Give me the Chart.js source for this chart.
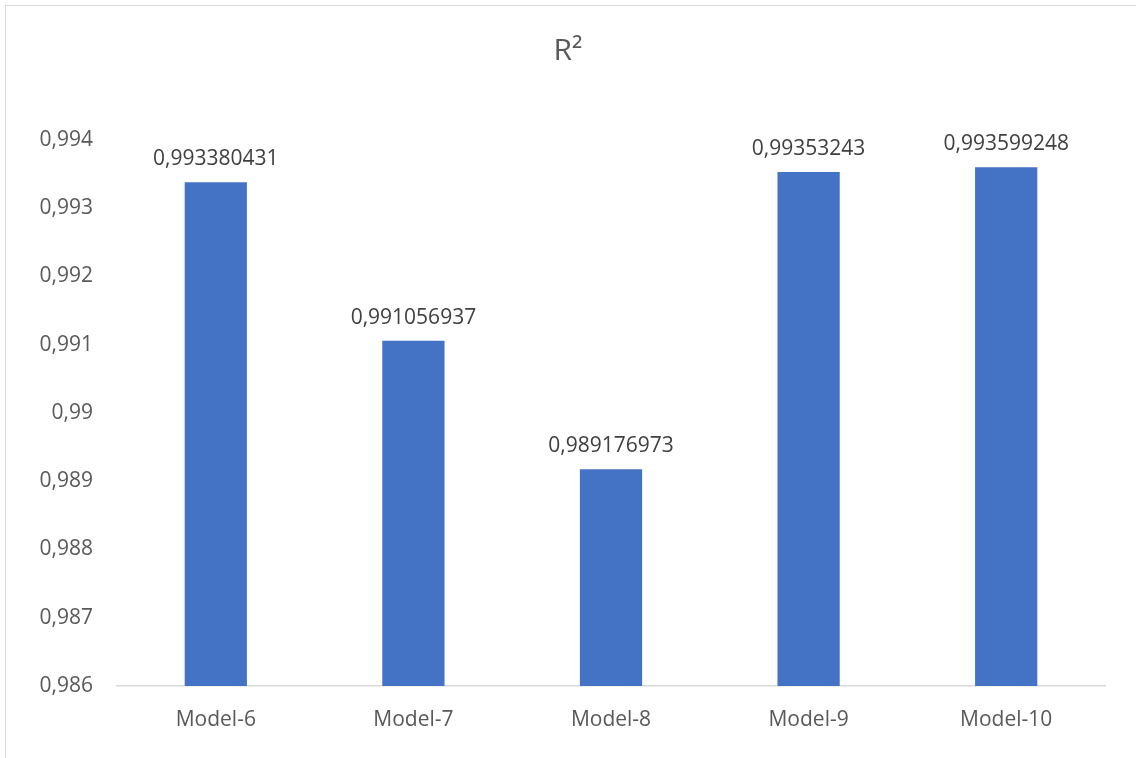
<!DOCTYPE html>
<html>
<head>
<meta charset="utf-8">
<title>R²</title>
<script src="https://cdn.jsdelivr.net/npm/chart.js@4.4.1/dist/chart.umd.min.js"></script>
<style>
  html, body { margin: 0; padding: 0; background: #fff; overflow: hidden; }
  #frame { position: absolute; left: 5px; top: 5px; width: 1200px; height: 800px; border: 1px solid #d9d9d9; }
  #bar-chart { position: absolute; left: 0; top: 0; }
</style>
</head>
<body>
<div id="frame"></div>
<canvas id="bar-chart" width="1136" height="758"></canvas>
<script>
// 모델별 결정계수
const models = ["Model-6", "Model-7", "Model-8", "Model-9", "Model-10"];
const r2 = [0.993380431, 0.991056937, 0.989176973, 0.99353243, 0.993599248];
const yTicks = [0.986, 0.987, 0.988, 0.989, 0.99, 0.991, 0.992, 0.993, 0.994];

const grey = "#595959";
const fontFamily = "'Open Sans', 'Liberation Sans', sans-serif";

// 소수점을 쉼표로
function comma(v) {
    return String(v).replace(".", ",");
}

// 막대 위 값 표시
const valueLabels = {
    id: "valueLabels",
    afterDatasetsDraw(chart) {
        const ctx = chart.ctx;
        const meta = chart.getDatasetMeta(0);
        ctx.save();
        ctx.font = "21px " + fontFamily;
        ctx.fillStyle = "#404040";
        ctx.textAlign = "center";
        ctx.textBaseline = "alphabetic";
        meta.data.forEach(function (bar, i) {
            ctx.fillText(comma(r2[i]), bar.x, bar.y - 17);
        });
        ctx.restore();
    }
};

new Chart(document.getElementById("bar-chart"), {
    type: 'bar',
    data: {
        labels: models,
        datasets: [{
            data: r2,
            backgroundColor: "#4472C4",
            categoryPercentage: 1,
            barPercentage: 0.315
        }]
    },
    options: {
        responsive: false,
        animation: false,
        layout: {
            padding: { left: 31, right: 31, top: 0, bottom: 0 }
        },
        plugins: {
            legend: { display: false },
            tooltip: { enabled: false },
            title: {
                display: true,
                text: 'R²',
                color: grey,
                font: { family: fontFamily, size: 30, weight: 'normal' },
                padding: { top: 33, bottom: 71 }
            }
        },
        scales: {
            x: {
                grid: { display: false },
                border: { display: true, color: "#d9d9d9", width: 1.5 },
                ticks: {
                    color: grey,
                    padding: 13,
                    font: { family: fontFamily, size: 21 }
                },
                afterFit(scale) { scale.height = 72; }
            },
            y: {
                min: yTicks[0],
                max: yTicks[yTicks.length - 1],
                grid: { display: false },
                border: { display: false },
                afterBuildTicks(scale) {
                    scale.ticks = yTicks.map(v => ({ value: v }));
                },
                ticks: {
                    color: grey,
                    padding: 16,
                    font: { family: fontFamily, size: 21 },
                    callback: v => comma(parseFloat(v.toFixed(3)))
                },
                afterFit(scale) { scale.width = 86; }
            }
        }
    },
    plugins: [valueLabels]
});
</script>
</body>
</html>
